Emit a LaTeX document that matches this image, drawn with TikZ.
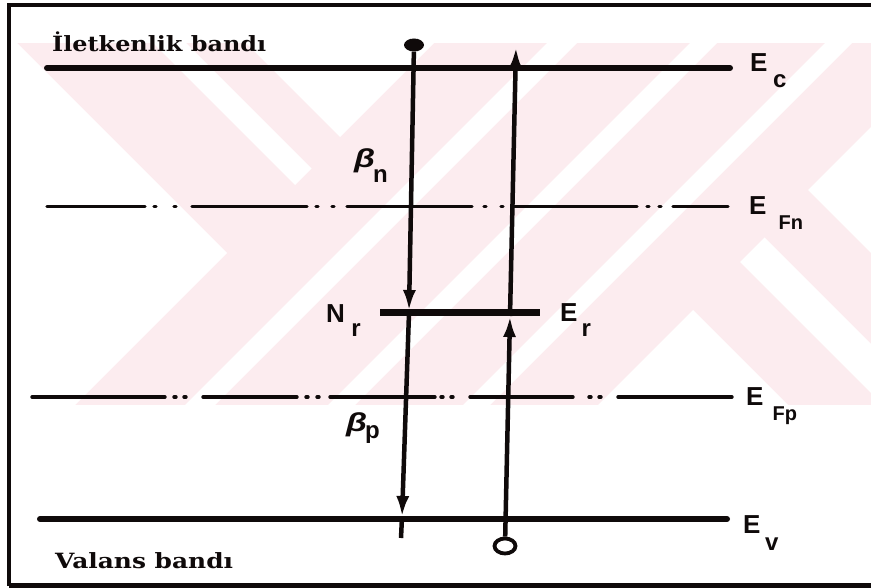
\documentclass[tikz,border=0pt]{standalone}
\usepackage{fontspec}
\usepackage{graphicx}
\usetikzlibrary{arrows.meta,shapes.geometric}
\newfontfamily\bandfont{DejaVu Serif}
\newfontfamily\lblfont{Liberation Sans}
\definecolor{wm}{RGB}{252,236,239}
\definecolor{ink}{RGB}{15,10,10}
\begin{document}
\begin{tikzpicture}[x=1pt,y=-1pt,
 bandline/.style={ink, line width=6pt, line cap=round},
 qfermi/.style={ink, line width=3.4pt, line cap=round},
 carrier/.style={ink, line width=4.5pt},
 tipstyle/.style={-{Latex[length=21pt,width=13pt]}},
 lbl/.style={inner sep=0pt, anchor=base west, text=ink, font=\lblfont\bfseries\fontsize{26}{26}\selectfont},
 bandtxt/.style={inner sep=0pt, anchor=base west, text=ink, font=\bandfont\bfseries\fontsize{21}{21}\selectfont},
 electron/.style={ellipse, fill=ink, inner sep=0pt, minimum width=20pt, minimum height=13pt},
 hole/.style={ellipse, draw=ink, line width=3.8pt, fill=white, inner sep=0pt, minimum width=21pt, minimum height=15pt},
]
\useasboundingbox (0,0) rectangle (871,588);
% watermark
\begin{scope}
\clip (10,43) rectangle (871,405);
\fill[wm] (0,43) rectangle (871,405);
\fill[white] (0,43) -- (17,43) -- (227,253) -- (75,405) -- (0,405) -- cycle;
\fill[white] (153,43) -- (186,43) -- (311.5,168.5) -- (295,185) -- cycle;
\fill[white] (246,43) -- (434,43) -- (340,137) -- cycle;
\fill[white] (547,43) -- (577,43) -- (215,405) -- (185,405) -- cycle;
\fill[white] (690,43) -- (717,43) -- (355,405) -- (328,405) -- cycle;
\fill[white] (825,43) -- (852,43) -- (490,405) -- (463,405) -- cycle;
\fill[white] (598,405) -- (693,310) -- (788,405) -- cycle;
\fill[white] (871,127) -- (808,190) -- (871,253) -- cycle;
\fill[white] (764.5,237.5) -- (871,344) -- (871,393) -- (740,262) -- cycle;
\end{scope}
% frame
\draw[ink, line width=4pt] (871,5.5) -- (8.5,5.5) -- (8.5,585.5);
\draw[ink, line width=5pt] (8.5,585.5) -- (871,585.5);
% levels
\coordinate (EcL) at (47,68); \coordinate (EcR) at (730,68);
\coordinate (EvL) at (40,519); \coordinate (EvR) at (727,519);
\coordinate (NrL) at (380,313); \coordinate (NrR) at (540,313);
\draw[bandline] (EcL) -- (EcR);
\draw[bandline] (EvL) -- (EvR);
\draw[ink, line width=7pt] (NrL) -- (NrR);
\draw[qfermi] (47,206.5) -- (145,206.5) (154,206.5) -- (156,206.5) (174,206.5) -- (176,206.5)
  (192,206.5) -- (307,206.5) (316,206.5) -- (318,206.5) (332,206.5) -- (334,206.5)
  (347,206.5) -- (472,206.5) (484,206.5) -- (486,206.5) (501,206.5) -- (503,206.5)
  (512,206.5) -- (637,206.5) (647,206.5) -- (649,206.5) (659,206.5) -- (661,206.5)
  (673,206.5) -- (728,206.5);
\draw[qfermi] (32,397) -- (165,397) (174,397) -- (176,397) (184,397) -- (186,397)
  (203,397) -- (297,397) (306,397) -- (308,397) (317,397) -- (319,397)
  (330,397) -- (435,397) (441,397) -- (443,397) (451,397) -- (453,397)
  (470,397) -- (573,397) (589,397) -- (591,397) (599,397) -- (601,397)
  (618,397) -- (732,397);
% carriers
\node[electron] (el) at (414,45) {};
\coordinate (ln) at (409,311);
\coordinate (lnb) at (409,313);
\coordinate (lv) at (402,517);
\coordinate (lend) at (401,538);
\draw[carrier,tipstyle] (el) -- (ln);
\draw[carrier,tipstyle] (lnb) -- (lv);
\draw[carrier] (lv) -- (lend);
\node[hole] (h) at (505,546) {};
\coordinate (rn) at (510,316);
\coordinate (rtop) at (516,47);
\draw[carrier,tipstyle] (h) -- (rn);
\draw[carrier,tipstyle] (rn) -- (rtop);
% labels
\node[bandtxt] (cb) at (52,52) {\resizebox{214pt}{\height}{İletkenlik bandı}};
\node[bandtxt] (vb) at (55,568) {\resizebox{178pt}{\height}{Valans bandı}};
\node[lbl] (Ec) at (750,72) {E\kern5.5pt\raisebox{-16pt}{\fontsize{24}{24}\selectfont c}};
\node[lbl] (EFn) at (749,215) {E\kern12pt\raisebox{-15pt}{\fontsize{20}{20}\selectfont Fn}};
\node[lbl] (EFp) at (746,405) {E\kern9pt\raisebox{-15pt}{\fontsize{20}{20}\selectfont Fp}};
\node[lbl] (Ev) at (743,533) {E\kern4.5pt\raisebox{-17pt}{\fontsize{24}{24}\selectfont v}};
\node[lbl] (Er) at (560,322) {E\kern4pt\raisebox{-15pt}{\fontsize{24}{24}\selectfont r}};
\node[lbl] (Nr) at (326,323) {N\kern6.5pt\raisebox{-14pt}{\fontsize{24}{24}\selectfont r}};
\node[lbl] (Bn) at (354,168) {\scalebox{1.3}[1]{\itshape β}\kern-2pt\raisebox{-15pt}{\fontsize{24}{24}\selectfont n}};
\node[lbl] (Bp) at (346,431) {\scalebox{1.3}[1]{\itshape β}\kern-2pt\raisebox{-7pt}{\fontsize{24}{24}\selectfont p}};
\end{tikzpicture}
\end{document}
